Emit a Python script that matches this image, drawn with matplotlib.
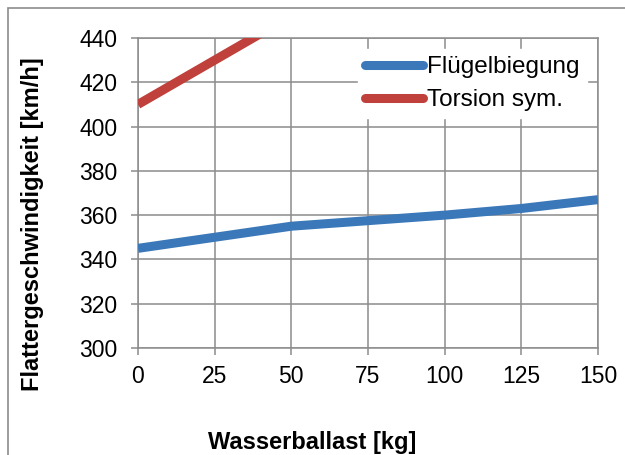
import matplotlib.pyplot as plt
from matplotlib.patches import Rectangle

plt.rcParams['font.family'] = ['Liberation Sans', 'DejaVu Sans']

ballast = [0, 25, 50, 75, 100, 125, 150]
fluegelbiegung = [345, 350, 355, 357.5, 360, 363, 367]
torsion_ballast = [0, 25, 50]
torsion_sym = [410, 430, 450]

fig = plt.figure(figsize=(6.25, 4.55), dpi=100, facecolor='white')
ax = fig.add_axes([0.2208, 0.2352, 0.736, 0.6813])

ax.plot(ballast, fluegelbiegung, color='#3a78b9', linewidth=6.5,
        solid_capstyle='butt', label='Flügelbiegung', zorder=3)
ax.plot(torsion_ballast, torsion_sym, color='#c0403b', linewidth=6.5,
        solid_capstyle='butt', label='Torsion sym.', zorder=3)

ax.set_xlim(0, 150)
ax.set_ylim(300, 440)
ax.set_xticks(ballast)
ax.set_yticks(range(300, 441, 20))
ax.grid(True, color='#8c8c8c', linewidth=1.1)
ax.set_axisbelow(True)
for s in ax.spines.values():
    s.set_color('#8c8c8c')
    s.set_linewidth(1.1)
ax.tick_params(axis='both', labelsize=16.5, color='#8c8c8c', length=5, width=1.1)
ax.tick_params(axis='x', pad=7)
ax.tick_params(axis='y', pad=10)

# axis titles sit centred on the whole chart, not on the plot area
ax.set_xlabel('Wasserballast [kg]', fontsize=17, fontweight='bold')
ax.set_ylabel('Flattergeschwindigkeit [km/h]', fontsize=17, fontweight='bold')
ax.xaxis.set_label_coords(0.378, -0.268)
ax.yaxis.set_label_coords(-0.204, 0.4)

leg = ax.legend(loc='upper right', bbox_to_anchor=(0.976, 0.965), fontsize=17.5,
                frameon=True, framealpha=1, edgecolor='white', fancybox=False,
                handlelength=2.39, handletextpad=0.16, borderpad=0.3,
                labelspacing=0.45, borderaxespad=0)
for h in leg.get_lines():
    h.set_solid_capstyle('round')

# outer chart frame
fig.patches.append(Rectangle((8 / 625, -0.1), 1.1, 1 - 8 / 455 + 0.1,
                             transform=fig.transFigure, fill=False,
                             edgecolor='#8c8c8c', linewidth=1.2))

fig.savefig('out.png', dpi=100)
